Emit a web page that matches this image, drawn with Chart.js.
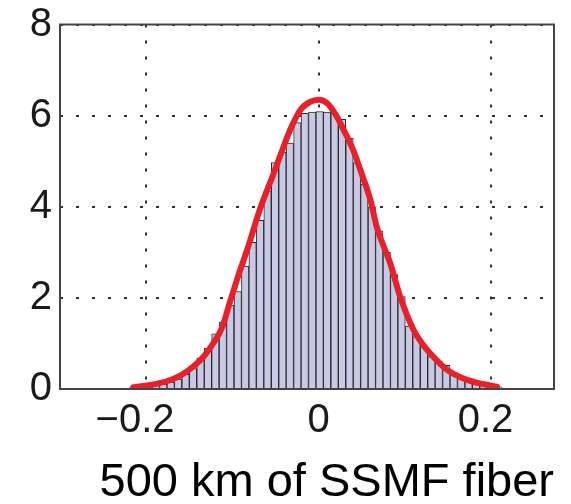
<!DOCTYPE html>
<html><head><meta charset="utf-8">
<script src="https://cdn.jsdelivr.net/npm/chart.js@4/dist/chart.umd.min.js"></script>
<style>html,body{margin:0;padding:0;background:#fff}#wrap{width:571px;height:504px}</style>
</head><body><div id="wrap"><canvas id="c" width="571" height="504"></canvas></div>
<script>
// Histogram bin centres (x) and bin heights (probability density)
const binCenters = [-0.2148, -0.2062, -0.1975, -0.1889, -0.1802, -0.1716, -0.1630, -0.1543, -0.1457, -0.1370,
  -0.1284, -0.1198, -0.1111, -0.1025, -0.0938, -0.0852, -0.0766, -0.0679, -0.0593, -0.0506,
  -0.0420, -0.0334, -0.0247, -0.0161, -0.0074, 0.0012, 0.0098, 0.0185, 0.0271, 0.0358,
  0.0444, 0.0530, 0.0617, 0.0703, 0.0790, 0.0876, 0.0962, 0.1049, 0.1135, 0.1222,
  0.1308, 0.1394, 0.1481, 0.1567, 0.1654, 0.1740, 0.1826, 0.1913, 0.1999, 0.2086];
const binHeights = [0.04, 0.05, 0.06, 0.08, 0.11, 0.15, 0.22, 0.32, 0.45, 0.68,
  0.90, 1.21, 1.47, 1.84, 2.14, 2.70, 3.22, 3.70, 4.35, 4.97,
  5.20, 5.40, 5.85, 6.05, 6.08, 6.09, 6.08, 6.05, 5.92, 5.50,
  4.97, 4.50, 4.00, 3.47, 3.00, 2.51, 2.03, 1.38, 1.15, 0.93,
  0.71, 0.60, 0.52, 0.35, 0.24, 0.17, 0.12, 0.10, 0.06, 0.05];
// Fitted density curve (red)
const fitX = [-0.215, -0.195, -0.176, -0.160, -0.145, -0.133, -0.122, -0.112, -0.103, -0.093,
  -0.083, -0.068, -0.052, -0.042, -0.033, -0.021, -0.010, 0.000, 0.010, 0.021,
  0.030, 0.040, 0.050, 0.060, 0.0675, 0.075, 0.083, 0.0945, 0.110, 0.120,
  0.129, 0.149, 0.172, 0.190, 0.207];
const fitY = [0.04, 0.09, 0.17, 0.30, 0.50, 0.72, 1.01, 1.35, 1.90, 2.50,
  3.05, 3.95, 4.74, 5.25, 5.69, 6.13, 6.30, 6.35, 6.27, 5.98,
  5.65, 5.25, 4.72, 4.15, 3.55, 3.15, 2.76, 2.03, 1.30, 1.00,
  0.79, 0.42, 0.20, 0.11, 0.05];
const xTicks = [-0.2, 0, 0.2];
const yTicks = [0, 2, 4, 6, 8];
const xRange = [-0.3, 0.273];
const yRange = [0, 8];
const titleText = '500 km of SSMF fiber';

const FONT = '"Liberation Sans", Arial, Helvetica, sans-serif';

const boxPlugin = {
  id: 'plotBox',
  afterDatasetsDraw(chart) {
    const {ctx, chartArea: a} = chart;
    ctx.save();
    ctx.strokeStyle = '#444';
    ctx.lineWidth = 2;
    ctx.strokeRect(a.left, a.top, a.right - a.left, a.bottom - a.top);
    ctx.restore();
  }
};

new Chart(document.getElementById('c'), {
  type: 'bar',
  data: {
    datasets: [
      {
        type: 'line',
        data: fitX.map((x, i) => ({x: x, y: fitY[i]})),
        borderColor: '#e8202a',
        borderWidth: 6,
        pointRadius: 0,
        fill: false,
        cubicInterpolationMode: 'monotone',
        borderCapStyle: 'round',
        borderJoinStyle: 'round',
        order: 0
      },
      {
        type: 'bar',
        data: binCenters.map((x, i) => ({x: x, y: binHeights[i]})),
        backgroundColor: '#c9c9e6',
        borderColor: '#2a2a2a',
        borderWidth: 1,
        barPercentage: 1,
        categoryPercentage: 1,
        order: 1
      }
    ]
  },
  options: {
    responsive: false,
    animation: false,
    devicePixelRatio: 1,
    layout: {padding: {left: 0, right: 17, top: 24.5, bottom: 0}},
    plugins: {
      legend: {display: false},
      tooltip: {enabled: false},
      title: {
        display: true,
        text: titleText,
        position: 'bottom',
        align: 'end',
        color: '#000',
        font: {family: FONT, size: 47, weight: 'normal', lineHeight: 1.2},
        padding: {top: 0, bottom: -7}
      }
    },
    scales: {
      x: {
        type: 'linear',
        min: xRange[0], max: xRange[1],
        offset: false,
        afterBuildTicks: s => { s.ticks = xTicks.map(v => ({value: v})); },
        afterFit: s => { s.height = 65.6; },
        ticks: {
          color: '#1a1a1a', padding: 8,
          font: {family: FONT, size: 40},
          callback: v => v < 0 ? '\u2212' + Math.abs(v) + '\u00a0\u00a0' : (v > 0 ? String(v) + '\u00a0' : String(v))
        },
        grid: {offset: false, drawTicks: false, color: '#333', lineWidth: 2},
        border: {display: false, dash: [3, 13]}
      },
      y: {
        type: 'linear',
        min: yRange[0], max: yRange[1],
        afterBuildTicks: s => { s.ticks = yTicks.map(v => ({value: v})); },
        afterFit: s => { s.width = 60; },
        ticks: {
          color: '#1a1a1a', padding: 8,
          font: {family: FONT, size: 40, lineHeight: 0.8}
        },
        grid: {drawTicks: false, color: '#333', lineWidth: 2},
        border: {display: false, dash: [3, 13]}
      }
    }
  },
  plugins: [boxPlugin]
});
</script>
</body></html>
